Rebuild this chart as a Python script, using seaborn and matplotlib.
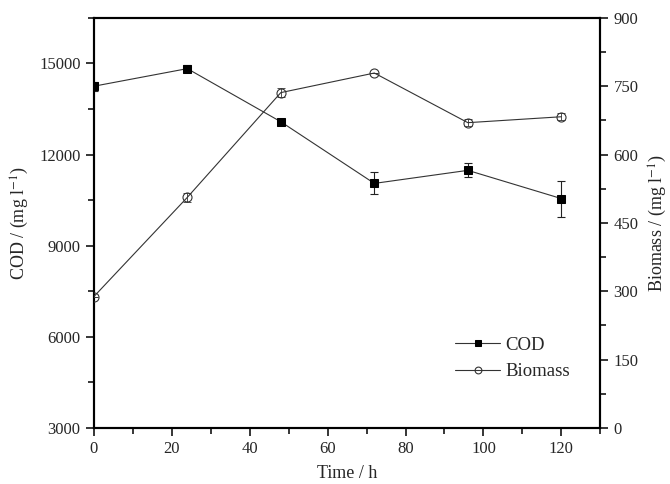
import numpy as np
import pandas as pd
import matplotlib.pyplot as plt
import seaborn as sns
from matplotlib.ticker import MultipleLocator

# Values
time_h = [0, 24, 48, 72, 96, 120]
cod = [14250, 14830, 13080, 11050, 11480, 10550]
cod_err = [150, 120, 60, 360, 230, 590]
biomass = [288, 506, 736, 779, 670, 683]
biomass_err = [0, 10, 10, 0, 8, 8]

df = pd.DataFrame({'time': time_h, 'cod': cod, 'biomass': biomass})

sns.set_style('ticks')
plt.rcParams['font.family'] = ['Liberation Serif', 'DejaVu Serif']
plt.rcParams['mathtext.fontset'] = 'stix'

fig = plt.figure(figsize=(6.7, 4.84), dpi=100)
ax = fig.add_axes([0.140, 0.116, 0.756, 0.847])
ax2 = ax.twinx()

# COD on the left axis
ax.errorbar(time_h, cod, yerr=cod_err, fmt='none', ecolor='#222222',
            elinewidth=0.8, capsize=3, capthick=0.8, zorder=2)
sns.lineplot(data=df, x='time', y='cod', ax=ax, color='#333333', lw=0.8,
             marker='s', markersize=6.2, markerfacecolor='black',
             markeredgecolor='black', label='COD', legend=False, zorder=3)

# Biomass on the right axis
ax2.errorbar(time_h, biomass, yerr=biomass_err, fmt='none', ecolor='#333333',
             elinewidth=0.6, capsize=3, capthick=0.6, zorder=4)
sns.lineplot(data=df, x='time', y='biomass', ax=ax2, color='#333333', lw=0.8,
             marker='o', markersize=6.5, markerfacecolor='none',
             markeredgecolor='#333333', markeredgewidth=0.8,
             label='Biomass', legend=False, zorder=3)

ax.set_xlim(0, 130)
ax.set_ylim(3000, 16500)
ax2.set_ylim(0, 900)

ax.xaxis.set_major_locator(MultipleLocator(20))
ax.xaxis.set_minor_locator(MultipleLocator(10))
ax.yaxis.set_major_locator(MultipleLocator(3000))
ax.yaxis.set_minor_locator(MultipleLocator(1500))
ax2.yaxis.set_major_locator(MultipleLocator(150))
ax2.yaxis.set_minor_locator(MultipleLocator(75))

for a in (ax, ax2):
    for s in a.spines.values():
        s.set_visible(True)
        s.set_linewidth(1.5)
        s.set_color('black')
    a.tick_params(which='major', length=6, width=1.3, labelsize=12, direction='out')
    a.tick_params(which='minor', length=4, width=1.3, direction='out')

ax.set_xlabel('Time / h', fontsize=13, labelpad=6)
ax.set_ylabel('COD / (mg l$^{-1}$)', fontsize=13, labelpad=6)
ax2.set_ylabel('Biomass / (mg l$^{-1}$)', fontsize=13, labelpad=6)

h1, l1 = ax.get_legend_handles_labels()
h2, l2 = ax2.get_legend_handles_labels()
ax2.legend(h1 + h2, l1 + l2, loc='lower left', bbox_to_anchor=(0.68, 0.075),
           frameon=False, fontsize=13.5, handlelength=2.4, handletextpad=0.3,
           labelspacing=0.5, markerscale=0.75)

fig.savefig('out.png', dpi=100)
